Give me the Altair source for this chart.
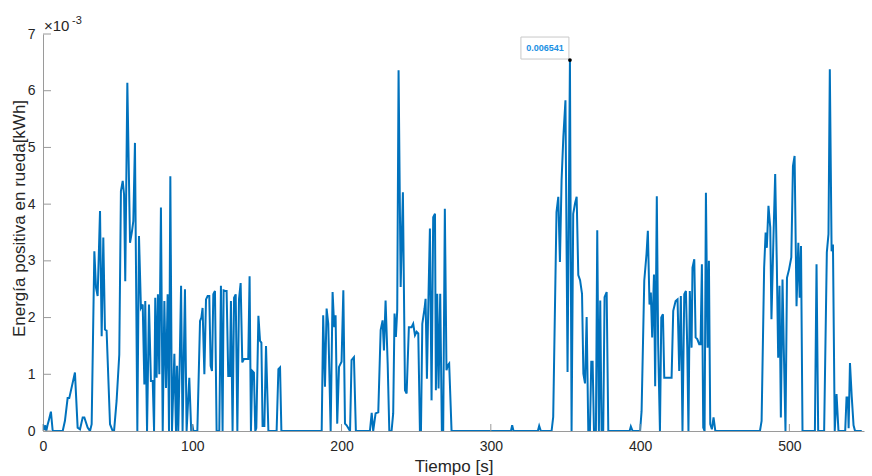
import altair as alt
import pandas as pd

# Tiempo [s]
tiempo = [
    0, 0.8, 1.4, 2.2, 3.0, 4.0, 5.3, 6.5, 13.2, 14.7, 16.5, 17.6, 21.4, 23.2, 24.8, 26.6, 27.7, 29.9, 31.5, 32.6,
    34.4, 35.5, 36.6, 38.2, 39.3, 40.4, 41.5, 42.6, 44.9, 46.7, 47.6, 49.3, 51.1, 52.2, 53.4, 54.3, 55.1, 56.5,
    58.3, 59.6, 60.5, 61.6, 63.2, 64.3, 65.6, 66.8, 67.9, 68.5, 69.7, 71.0, 72.3, 73.5, 74.4, 75.2, 76.1, 77.0,
    77.9, 79.0, 80.2, 81.3, 82.4, 83.5, 84.4, 85.3, 86.4, 88.0, 89.1, 89.8, 90.6, 91.5, 92.5, 93.5, 95.1, 96.2,
    98.0, 99.3, 100.0, 100.7, 103.4, 105.2, 106.1, 106.9, 108.1, 109.2, 110.3, 111.4, 112.3, 113.2, 114.1, 115.2,
    116.3, 118.1, 119.2, 120.3, 121.0, 122.1, 123.0, 124.1, 125.2, 125.9, 127.0, 128.0, 129.1, 130.2, 131.3,
    132.4, 133.5, 134.6, 137.5, 138.4, 139.3, 140.2, 141.3, 142.2, 142.9, 144.3, 145.4, 146.3, 147.1, 148.3,
    149.4, 151.0, 156.5, 157.7, 158.8, 159.7, 186.7, 187.7, 188.9, 190.0, 191.1, 192.7, 194.0, 195.1, 196.0,
    197.1, 198.3, 200.0, 201.2, 202.3, 203.4, 205.7, 206.7, 208.3, 209.6, 219.0, 220.2, 221.2, 222.8, 224.6,
    226.2, 227.5, 228.4, 229.5, 230.9, 232.0, 233.5, 234.6, 235.5, 236.4, 237.3, 238.2, 239.6, 241.1, 242.5,
    243.6, 245.1, 246.9, 248.0, 249.2, 250.3, 251.4, 252.5, 253.2, 254.1, 255.6, 256.3, 257.2, 258.3, 259.2,
    260.3, 261.4, 262.6, 263.2, 264.1, 265.0, 266.1, 267.2, 268.1, 269.2, 270.3, 271.2, 272.1, 273.7, 313.5,
    314.3, 315.2, 331.5, 332.4, 333.5, 340.7, 341.8, 344.0, 345.2, 346.3, 347.4, 348.6, 350.0, 351.4, 353.0,
    354.1, 355.2, 356.4, 357.5, 358.6, 359.8, 361.1, 362.0, 363.1, 364.2, 365.3, 366.4, 367.3, 368.2, 369.1,
    370.4, 371.3, 372.4, 373.3, 374.2, 375.3, 376.2, 377.6, 378.7, 393.0, 393.8, 395.0, 400.0, 401.0, 402.8,
    404.3, 405.2, 406.3, 407.2, 408.1, 409.3, 410.1, 411.2, 412.1, 413.3, 414.2, 415.3, 416.2, 421.1, 422.2,
    423.8, 425.1, 426.2, 427.3, 428.4, 429.6, 430.7, 431.6, 432.4, 433.3, 434.5, 435.1, 436.3, 437.2, 438.3,
    439.6, 440.5, 441.4, 442.3, 443.2, 444.1, 445.2, 446.1, 447.0, 448.1, 449.2, 450.4, 480.3, 481.4, 483.1,
    484.1, 484.9, 486.0, 487.2, 488.0, 489.4, 490.5, 491.6, 492.5, 493.4, 494.3, 495.4, 496.3, 497.4, 498.4,
    499.8, 501.3, 502.4, 503.5, 504.8, 506.0, 506.9, 507.8, 508.8, 517.1, 518.2, 519.3, 523.3, 525.1, 526.2,
    527.1, 528.3, 529.2, 530.4, 531.6, 532.9, 537.4, 538.3, 539.2, 539.7, 540.6, 541.8, 543.0, 544.0, 548.5,
]

# Energía positiva en rueda, in units of 1e-3 kWh
energia = [
    0.12, 0.02, 0.1, 0.0, 0.1, 0.2, 0.34, 0.0, 0.0, 0.18, 0.58, 0.58, 1.03, 0.06, 0.03, 0.24, 0.24, 0.06, 0.0, 0.12,
    3.17, 2.53, 2.38, 3.88, 1.67, 3.41, 1.79, 1.77, 0.12, 0.0, 0.0, 0.53, 1.35, 4.23, 4.41, 4.17, 2.64, 6.14,
    3.32, 3.52, 3.70, 5.08, 0.0, 3.44, 2.17, 2.23, 0.82, 2.29, 0.0, 2.23, 0.88, 0.88, 0.0, 2.35, 0.94, 2.41,
    1.0, 3.94, 0.0, 2.29, 0.76, 2.41, 0.0, 4.49, 0.0, 1.36, 0.0, 1.15, 0.0, 1.1, 2.56, 0.0, 2.5, 0.0,
    0.94, 0.0, 0.12, 0.0, 0.0, 1.94, 2.0, 2.17, 1.0, 2.32, 2.38, 2.38, 1.15, 1.06, 2.41, 2.47,
    0.0, 0.0, 2.56, 0.0, 2.48, 2.47, 2.47, 0.97, 0.97, 2.29, 0.0, 2.35, 2.41, 0.0, 2.32,
    2.61, 1.21, 1.27, 1.27, 2.73, 0.0, 1.06, 1.03, 0.0, 0.05, 2.03, 1.59, 1.56, 0.09, 0.09,
    1.5, 0.0, 0.0, 1.09, 1.12, 0.0, 0.0, 2.04, 0.78, 2.16, 1.89, 0.0, 2.45, 1.83, 2.04,
    0.13, 1.13, 1.22, 2.48, 0.13, 0.10, 0.0, 1.25, 1.30, 0.0, 0.0, 0.32, 0.0, 0.31, 0.33,
    1.78, 1.95, 1.42, 2.30, 1.19, 0.0, 0.0, 0.31, 2.07, 1.66, 2.13, 6.36, 2.54, 4.21, 0.72,
    0.66, 1.83, 1.83, 1.89, 1.69, 1.75, 1.72, 0.0, 0.0, 1.89, 2.16, 2.33, 0.92, 2.45, 3.57,
    0.54, 3.77, 3.83, 0.72, 2.42, 0.75, 2.42, 0.0, 0.0, 3.92, 1.07, 1.16, 1.19, 0.0, 0.0,
    0.10, 0.0, 0.0, 0.09, 0.0, 0.0, 0.25, 3.86, 4.13, 2.98, 4.42, 5.19, 5.83, 1.04, 6.541,
    0.0, 3.83, 4.01, 4.13, 2.75, 2.66, 2.42, 1.01, 0.84, 2.01, 0.0, 0.0, 1.22, 1.22, 0.0,
    0.0, 3.54, 0.0, 2.30, 0.0, 0.0, 2.36, 2.45, 0.0, 0.0, 0.08, 0.0, 0.0, 0.35, 2.65,
    3.12, 3.53, 2.23, 2.44, 1.65, 2.76, 0.79, 4.14, 1.53, 0.0, 2.0, 2.06, 0.94, 0.94, 2.12,
    2.29, 2.32, 1.06, 2.38, 0.0, 2.41, 2.47, 1.47, 0.0, 2.47, 1.47, 2.88, 3.03, 1.65, 1.62,
    1.53, 1.53, 2.94, 0.06, 0.0, 4.2, 1.47, 3.0, 0.12, 0.03, 0.24, 0.0, 0.0, 0.18, 2.88,
    3.5, 3.23, 3.97, 3.59, 1.97, 3.47, 4.53, 2.94, 1.29, 2.56, 0.24, 2.67, 1.41, 0.0, 2.7,
    2.85, 3.06, 4.67, 4.85, 2.2, 3.32, 2.35, 3.26, 0.0, 0.0, 2.94, 0.0, 0.0, 3.15, 3.47,
    6.38, 3.17, 3.29, 0.0, 0.65, 0.0, 0.0, 0.59, 0.59, 0.05, 1.2, 0.6, 0.1, 0.0, 0.0,
]

x_ticks = [0, 100, 200, 300, 400, 500]
y_ticks = [0, 1, 2, 3, 4, 5, 6, 7]

FONT = "Liberation Sans"
W, H = 821, 397
BLUE = "#0072BD"
AXC = "#9a9a9a"
TXT = "#262626"

df = pd.DataFrame({"t": tiempo, "e": energia})
imax = df["e"].idxmax()
tip = pd.DataFrame({
    "t": [df.loc[imax, "t"]],
    "e": [df.loc[imax, "e"]],
    "label": [f"{df.loc[imax, 'e'] / 1000:.6f}"],
})

xs = alt.Scale(domain=[0, 550], nice=False, zero=False)
ys = alt.Scale(domain=[0, 7], nice=False, zero=False)

x_axis = alt.Axis(
    values=x_ticks, title="Tiempo [s]", ticks=False, grid=False,
    labelPadding=8, labelFlush=False, titleX=W / 2, titleY=40, titleAlign="center",
    titleBaseline="alphabetic")
y_axis = alt.Axis(
    values=y_ticks, title="Energía positiva en rueda[kWh]", ticks=False,
    grid=False, labelPadding=8, labelFlush=False, titleX=-18.5, titleY=184, titleAngle=-90,
    titleAlign="center", titleBaseline="alphabetic")

X = alt.X("t:Q", scale=xs, axis=x_axis)
Y = alt.Y("e:Q", scale=ys, axis=y_axis)

line = alt.Chart(df).mark_line(color=BLUE, strokeWidth=2, clip=True).encode(x=X, y=Y)

xtick = alt.Chart(pd.DataFrame({"t": x_ticks})).mark_rule(color=AXC, strokeWidth=1).encode(
    x=X, y=alt.value(H), y2=alt.value(H - 7))
ytick = alt.Chart(pd.DataFrame({"e": y_ticks})).mark_rule(color=AXC, strokeWidth=1).encode(
    y=Y, x=alt.value(0), x2=alt.value(8))

exp_base = alt.Chart(pd.DataFrame({"s": ["×10"]})).mark_text(
    align="left", baseline="alphabetic", font=FONT, fontSize=15, color=TXT
).encode(x=alt.value(1), y=alt.value(-3), text="s:N")
exp_pow = alt.Chart(pd.DataFrame({"s": ["-3"]})).mark_text(
    align="left", baseline="alphabetic", font=FONT, fontSize=11, color=TXT
).encode(x=alt.value(29), y=alt.value(-10), text="s:N")

tip_box = alt.Chart(tip).mark_rect(
    width=48, height=22, xOffset=-25, yOffset=-12, fill="white",
    stroke="#c8c8c8", strokeWidth=1
).encode(x=X, y=Y)
tip_text = alt.Chart(tip).mark_text(
    font=FONT, fontSize=9, fontWeight="bold", color="#1a8fe3",
    align="center", baseline="middle", dx=-25, dy=-12
).encode(x=X, y=Y, text="label:N")
tip_pt = alt.Chart(tip).mark_circle(size=14, color="black", opacity=1).encode(x=X, y=Y)

chart = alt.layer(line, xtick, ytick, exp_base, exp_pow, tip_box, tip_text, tip_pt).properties(
    width=W, height=H,
    autosize=alt.AutoSizeParams(type="none"),
    padding={"left": 43, "top": 34, "right": 8, "bottom": 45},
).configure_view(stroke=None).configure_axis(
    labelFont=FONT, labelFontSize=14, labelColor=TXT,
    titleFont=FONT, titleFontSize=17, titleFontWeight="normal", titleColor=TXT,
    domainColor=AXC, domainWidth=1,
)

chart.save("out.html", embed_options={"renderer": "svg", "actions": False})
